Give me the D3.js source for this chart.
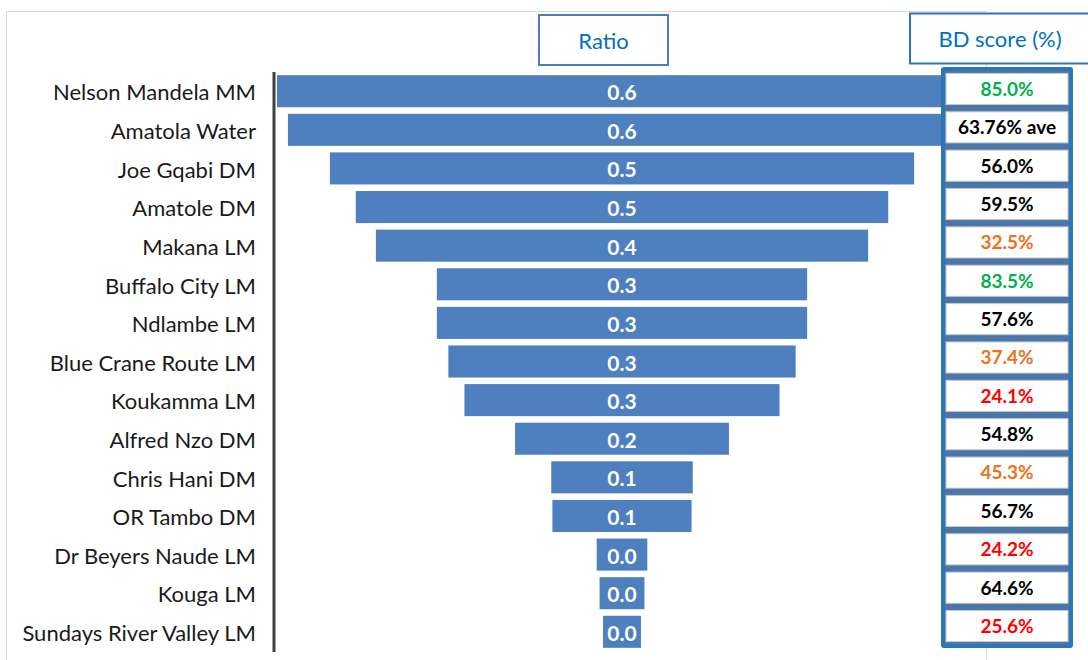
<!DOCTYPE html>
<html>
<head>
<meta charset="utf-8">
<script src="https://cdn.jsdelivr.net/npm/d3@7"></script>
<style>
  html, body { margin: 0; padding: 0; background: #fff; }
  svg { display: block; }
  text { font-family: Lato, "Open Sans", sans-serif; }
</style>
</head>
<body>
<svg id="chart" width="1088" height="660"></svg>
<script>
const categories = [
  "Nelson Mandela MM", "Amatola Water", "Joe Gqabi DM", "Amatole DM", "Makana LM",
  "Buffalo City LM", "Ndlambe LM", "Blue Crane Route LM", "Koukamma LM", "Alfred Nzo DM",
  "Chris Hani DM", "OR Tambo DM", "Dr Beyers Naude LM", "Kouga LM", "Sundays River Valley LM"
];
const ratios = [0.600, 0.581, 0.508, 0.463, 0.428, 0.322, 0.322, 0.302, 0.274, 0.186, 0.123, 0.121, 0.044, 0.039, 0.033];
const bdScores = [85.0, 63.76, 56.0, 59.5, 32.5, 83.5, 57.6, 37.4, 24.1, 54.8, 45.3, 56.7, 24.2, 64.6, 25.6];
const bdLabels = ["85.0%", "63.76% ave", "56.0%", "59.5%", "32.5%", "83.5%", "57.6%", "37.4%", "24.1%", "54.8%", "45.3%", "56.7%", "24.2%", "64.6%", "25.6%"];
const headers = ["Ratio", "BD score (%)"];

const svg = d3.select("#chart");

// outer chart frame
svg.append("rect")
  .attr("x", 6.5).attr("y", 11.5).attr("width", 980).attr("height", 700)
  .attr("fill", "#fff").attr("stroke", "#d9d9d9").attr("stroke-width", 1);

const y = d3.scaleBand().domain(categories).range([71.7, 651.3]).paddingInner(0.17).paddingOuter(0.09);
const x = d3.scaleLinear().domain([-0.3, 0.3]).range([277, 967]);

// bars (funnel, centred)
svg.append("g").selectAll("rect").data(categories).join("rect")
  .attr("x", (d, i) => x(-ratios[i] / 2))
  .attr("width", (d, i) => x(ratios[i] / 2) - x(-ratios[i] / 2))
  .attr("y", d => y(d))
  .attr("height", y.bandwidth())
  .attr("fill", "#4e7fbf");

// bar labels
const fmt = d3.format(".1f");
svg.append("g").selectAll("text").data(categories).join("text")
  .attr("x", x(0))
  .attr("y", d => y(d) + y.bandwidth() / 2 + 1.5)
  .attr("dy", "0.36em")
  .attr("text-anchor", "middle")
  .attr("font-size", 21).attr("font-weight", "bold")
  .attr("fill", "#fff")
  .text((d, i) => fmt(ratios[i]));

// category axis
const axis = svg.append("g").attr("transform", "translate(274,0)")
  .call(d3.axisLeft(y).tickSize(0).tickPadding(18));
axis.select(".domain").attr("stroke", "#404040").attr("stroke-width", 3)
  .attr("d", "M0,72V652");
axis.selectAll(".tick text")
  .attr("font-family", "Lato, 'Open Sans', sans-serif")
  .attr("font-size", 22).attr("fill", "#1a1a1a")
  .attr("dy", "0.42em");

// header boxes
const hdr = [{x: 539, y: 15, w: 129, h: 50}, {x: 910, y: 13.5, w: 190, h: 50}];
svg.append("g").selectAll("rect").data(headers).join("rect")
  .attr("x", (d, i) => hdr[i].x).attr("y", (d, i) => hdr[i].y)
  .attr("width", (d, i) => hdr[i].w).attr("height", (d, i) => hdr[i].h)
  .attr("fill", "#fff").attr("stroke", (d, i) => i ? "#2e75b6" : "#4a7ebb").attr("stroke-width", 2);
svg.append("g").selectAll("text").data(headers).join("text")
  .attr("x", (d, i) => i ? 1000 : 603.5)
  .attr("y", (d, i) => hdr[i].y + hdr[i].h / 2 + 1)
  .attr("dy", "0.36em").attr("text-anchor", "middle")
  .attr("font-size", 22).attr("fill", "#0070c0")
  .text(d => d);

// BD score box
const yb = d3.scaleBand().domain(categories).range([69, 646]).paddingInner(0.19).paddingOuter(0.115);
svg.append("rect")
  .attr("x", 943).attr("y", 69).attr("width", 128).attr("height", 577)
  .attr("fill", "#4a76a9").attr("stroke", "#2e75b6").attr("stroke-width", 4).attr("rx", 1);
svg.append("g").selectAll("rect").data(categories).join("rect")
  .attr("x", 946).attr("width", 122)
  .attr("y", d => yb(d)).attr("height", yb.bandwidth())
  .attr("fill", "#fff").attr("stroke", "#c8c8c8").attr("stroke-width", 1);
const bdColor = d3.scaleThreshold().domain([30, 50, 80]).range(["#ff0000", "#e97321", "#000000", "#00b050"]);
svg.append("g").selectAll("text").data(categories).join("text")
  .attr("x", 1007)
  .attr("y", d => yb(d) + yb.bandwidth() / 2)
  .attr("dy", "0.36em").attr("text-anchor", "middle")
  .attr("font-size", 19).attr("font-weight", "bold")
  .attr("fill", (d, i) => bdColor(bdScores[i]))
  .text((d, i) => bdLabels[i]);
</script>
</body>
</html>
